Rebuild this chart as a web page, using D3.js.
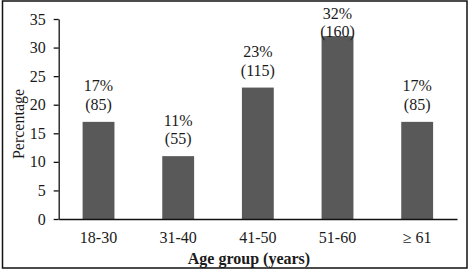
<!DOCTYPE html>
<html><head><meta charset="utf-8">
<script src="https://cdn.jsdelivr.net/npm/d3@7"></script>
<style>
html,body{margin:0;padding:0;background:#fff;}
svg{display:block;}
text{font-family:"Liberation Serif","Times New Roman",serif;fill:#1a1a1a;}
</style></head>
<body>
<svg id="c" width="471" height="270"></svg>
<script>
const categories = ["18-30","31-40","41-50","51-60","\u2265 61"];
const percentages = [17, 11, 23, 32, 17];
const counts = [85, 55, 115, 160, 85];
const yTicks = [0,5,10,15,20,25,30,35];

const svg = d3.select("#c");
const m = {left:58.7, top:19};
const FS = 16;

svg.append("rect").attr("x",2.5).attr("y",1).attr("width",464.5).attr("height",267)
  .attr("fill","#fff").attr("stroke","#111").attr("stroke-width",1.5);

const x = d3.scaleBand().domain(categories).range([m.left, 457]).paddingInner(0.6).paddingOuter(0.3);
const y = d3.scaleLinear().domain([0,35]).range([219, 19]);

svg.append("g").selectAll("rect").data(categories).join("rect")
  .attr("x", d=>x(d)).attr("width", x.bandwidth())
  .attr("y", (d,i)=>y(percentages[i])).attr("height",(d,i)=>y(0)-y(percentages[i]))
  .attr("fill","#595959");

const yAxis = svg.append("g").attr("transform",`translate(${m.left},0)`)
  .call(d3.axisLeft(y).tickValues(yTicks).tickSize(5).tickPadding(8).tickSizeOuter(0));
yAxis.selectAll("path,line").attr("stroke","#111").attr("stroke-width",1.3);
yAxis.selectAll("text").attr("font-size",FS).attr("font-family","Liberation Serif").attr("fill","#1a1a1a");

const xAxis = svg.append("g").attr("transform",`translate(0,219)`)
  .call(d3.axisBottom(x).tickSize(0).tickPadding(13).tickSizeOuter(0));
xAxis.select("path").attr("stroke","#111").attr("stroke-width",1.3);
xAxis.selectAll("text").attr("font-size",FS).attr("font-family","Liberation Serif").attr("fill","#1a1a1a");

const lbl = svg.append("g");
categories.forEach((c,i)=>{
  const top = y(percentages[i]);
  const b1 = Math.max(top - 30.5, 18.5);
  const cx = x(c) + x.bandwidth()/2;
  lbl.append("text").attr("x",cx).attr("y",b1).attr("text-anchor","middle").attr("font-size",FS).text(percentages[i]+"%");
  lbl.append("text").attr("x",cx).attr("y",b1+18.5).attr("text-anchor","middle").attr("font-size",FS).text("("+counts[i]+")");
});

svg.append("text").attr("x",249).attr("y",263.5).attr("text-anchor","middle")
  .attr("font-size",16).attr("font-weight","bold").text("Age group (years)");
svg.append("text").attr("transform","translate(23.5,124) rotate(-90)").attr("text-anchor","middle")
  .attr("font-size",FS).text("Percentage");
</script>
</body></html>
